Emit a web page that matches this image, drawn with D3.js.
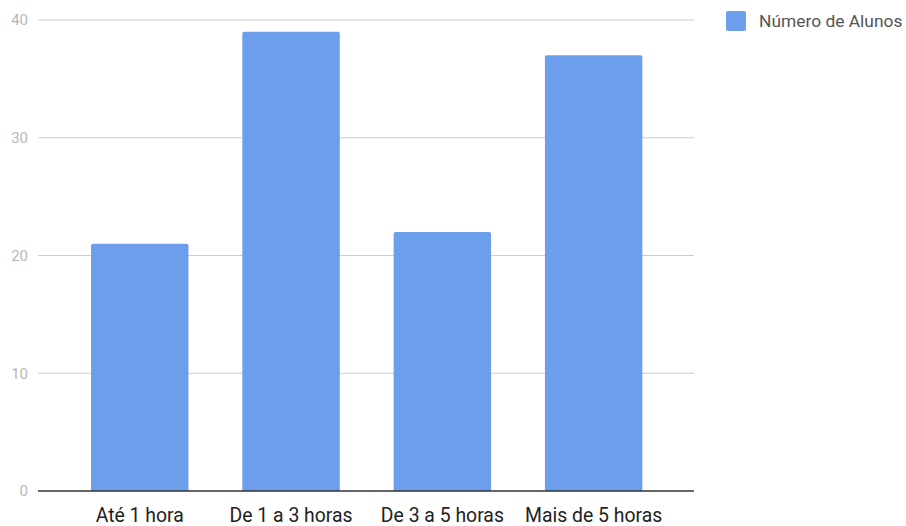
<!DOCTYPE html>
<html>
<head>
<meta charset="utf-8">
<script src="https://cdn.jsdelivr.net/npm/d3@7"></script>
<style>
  html, body { margin: 0; padding: 0; background: #fff; }
  svg { display: block; font-family: Roboto, "Noto Sans", sans-serif; }
</style>
</head>
<body>
<svg id="chart" width="906" height="526"></svg>
<script>
// Study hours per week, number of students in each group
const categories = ["Até 1 hora", "De 1 a 3 horas", "De 3 a 5 horas", "Mais de 5 horas"];
const alunos = [21, 39, 22, 37];
const yTicks = [0, 10, 20, 30, 40];
const seriesName = "Número de Alunos";

const svg = d3.select("#chart");
const barColor = "#6d9eeb";

const gridLeft = 38, gridRight = 694;
const y = d3.scaleLinear().domain([0, 40]).range([491, 20]);
const x = d3.scaleBand()
  .domain(categories)
  .range([64.1, 669.3])
  .paddingInner(0.356)
  .paddingOuter(0.178);

// horizontal gridlines
svg.append("g")
  .selectAll("line")
  .data(yTicks.filter(d => d !== 0))
  .join("line")
  .attr("x1", gridLeft).attr("x2", gridRight)
  .attr("y1", d => y(d)).attr("y2", d => y(d))
  .attr("stroke", "#cccccc").attr("stroke-width", 1);

// y tick labels
svg.append("g")
  .selectAll("text")
  .data(yTicks)
  .join("text")
  .attr("x", 28).attr("y", d => y(d))
  .attr("dy", "0.35em")
  .attr("text-anchor", "end")
  .attr("font-size", 15)
  .attr("fill", "#b7b7b7")
  .text(d => d);

// bars with slightly rounded top corners
const r = 2;
svg.append("g")
  .selectAll("path")
  .data(alunos)
  .join("path")
  .attr("fill", barColor)
  .attr("d", (d, i) => {
    const x0 = x(categories[i]), w = x.bandwidth();
    const yt = y(d), yb = y(0);
    return `M${x0},${yb}V${yt + r}Q${x0},${yt} ${x0 + r},${yt}H${x0 + w - r}Q${x0 + w},${yt} ${x0 + w},${yt + r}V${yb}Z`;
  });

// baseline
svg.append("line")
  .attr("x1", gridLeft).attr("x2", gridRight)
  .attr("y1", y(0)).attr("y2", y(0))
  .attr("stroke", "#333333").attr("stroke-width", 1.5);

// category labels
const xAxis = d3.axisBottom(x).tickSize(0).tickPadding(0);
const gx = svg.append("g")
  .attr("transform", `translate(0,${y(0)})`)
  .call(xAxis);
gx.select(".domain").remove();
gx.selectAll("text")
  .attr("y", 31)
  .attr("dy", 0)
  .attr("font-size", 19.4)
  .attr("font-family", "Roboto, sans-serif")
  .attr("fill", "#222222");

// legend
const legend = svg.append("g").attr("transform", "translate(726,11)");
legend.append("rect")
  .attr("width", 20).attr("height", 20)
  .attr("rx", 2)
  .attr("fill", barColor);
legend.append("text")
  .attr("x", 33).attr("y", 10)
  .attr("dy", "0.35em")
  .attr("font-size", 17.4)
  .attr("fill", "#555555")
  .text(seriesName);
</script>
</body>
</html>
